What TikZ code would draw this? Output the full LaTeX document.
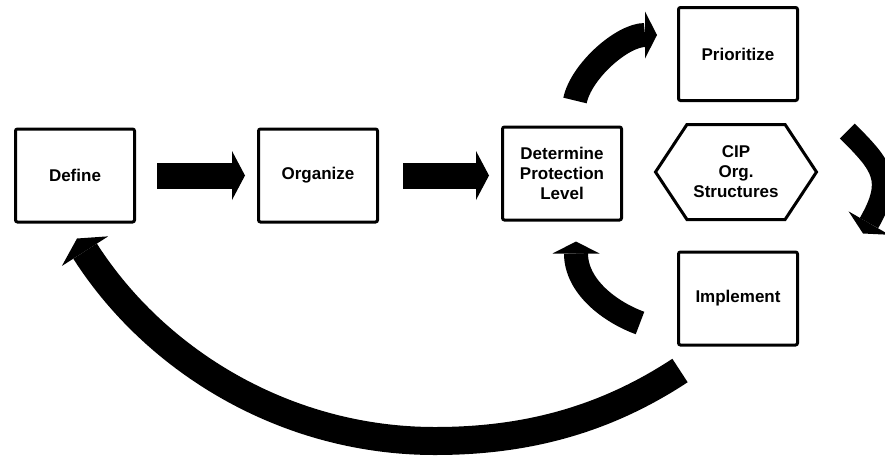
\documentclass[tikz,border=0pt]{standalone}
\usepackage{fontspec}
\setmainfont{Liberation Sans}
\usetikzlibrary{positioning,calc,arrows.meta,shapes.symbols}
\tikzset{
    every node/.style={font=\fontsize{17}{20}\selectfont\bfseries},
    stepbox/.style={draw, line width=3pt, rounded corners=2pt, minimum width=119pt, minimum height=93pt, align=center, inner sep=0pt},
    hexbox/.style={draw, line width=3pt, signal, signal to=west and east, signal pointer angle=113, minimum width=161pt, minimum height=95pt, align=center, inner sep=0pt},
    flatarrow/.style={line width=26pt, -{Triangle[length=13pt,width=49pt,line width=0pt]}},
    bendarrow/.style={line width=24pt, -{Triangle[length=12pt,width=47pt,line width=0pt]}},
    bigarrow/.style={line width=28pt, -{Triangle[length=15pt,width=55pt,line width=0pt]}},
}
\begin{document}
\begin{tikzpicture}[x=1pt,y=-1pt]
\useasboundingbox (0,0) rectangle (885,458);
% steps of the cycle
\node[stepbox] (define) at (75,175.5) {Define};
\node[stepbox,right=121pt of define] (organize) {Organize};
\node[stepbox] (determine) at (562,173.5) {Determine\\Protection\\Level};
\node[stepbox] (prioritize) at (738,54) {Prioritize};
\node[hexbox] (cip) at (736,172) {CIP\\Org.\\Structures};
\node[stepbox] (implement) at (738,298.5) {Implement};

% straight arrows
\draw[flatarrow, shorten <=21pt, shorten >=12pt] (define) -- (organize);
\draw[flatarrow, shorten <=24pt, shorten >=12pt] (organize.east) -- (organize.east -| determine.west);

% bent arrows round the hexagon
\draw[bendarrow] ($(determine.north)+(13,-25)$) .. controls +(6,-29) and +(-35,0) .. ($(prioritize.west)+(-20,-19)$);
\draw[bendarrow, line width=21pt] ($(cip.east)+(29,-41)$) .. controls +(35,35) and +(31,-54) .. ($(implement.north east)+(64,-17)$);
\draw[bendarrow] ($(implement.west)+(-37,24.5)$) .. controls +(-30,-11) and +(0,45) .. ($(determine.south)+(14,20)$);

% back to the start
\coordinate (low) at (435,441);
\draw[bigarrow] ($(implement.south west)+(3,24)$) .. controls +(-76,50) and +(90,0) .. (low)
  .. controls +(-150,0) and +(78,122) .. ($(define.south)+(2,15)$);
\end{tikzpicture}
\end{document}
